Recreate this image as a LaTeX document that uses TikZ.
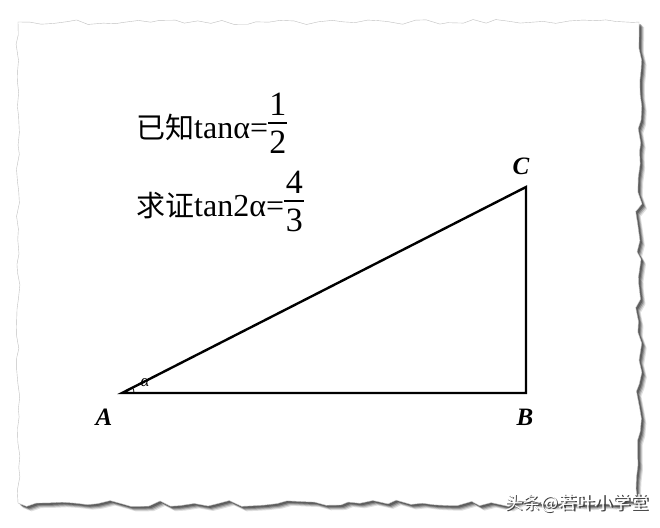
\documentclass[tikz,border=0pt]{standalone}
\usepackage{fontspec}
\setmainfont{Liberation Serif}
\newfontfamily\cjk{Noto Sans CJK SC}
\usetikzlibrary{positioning}
\begin{document}
\begin{tikzpicture}
    [
    x=1pt,y=-1pt,
    % torn sheet outline, same seed each time it is used
    tornsheet/.style={/utils/exec={\pgfmathsetseed{42}},insert path={
      (18,22) foreach \x in {30,42,...,630} {-- ({\x+3*rand},{22+2.5*rand})}
      -- (639,22) foreach \y in {34,46,...,494} {-- ({639+3.5*rand},{\y+3*rand})}
      -- (638,503) foreach \x in {626,614,...,26} {-- ({\x+3*rand},{503+3.5*rand})}
      -- (18,503) foreach \y in {491,479,...,34} {-- ({18+2*rand},{\y+3*rand})}
      -- cycle}},
    edge/.style={line width=2.4pt,line join=miter},
    vertex/.style={font=\bfseries\itshape\fontsize{25}{25}\selectfont,inner sep=0pt},
    given/.style={anchor=base west,inner sep=0pt,font=\fontsize{32}{32}\selectfont},
    digit/.style={inner sep=0pt,font=\fontsize{34}{34}\selectfont},
    bar/.style={line width=2.8pt},
    ]
    \useasboundingbox (0,0) rectangle (660,527);
    \fill[white] (0,0) rectangle (660,527);
    % shadow of the paper
    \foreach \s/\o in {5/0.12,4/0.18,3/0.25,2/0.3} {
      \fill[black,opacity=\o,shift={(\s,\s)},tornsheet];
    }
    \fill[white,tornsheet];
    \draw[black!25,line width=0.4pt,tornsheet];
    % the text
    \node[given] (given) at (136,138) {{\cjk\fontsize{29}{29}\selectfont 已知}tanα=};
    \draw[bar] ([yshift=15pt]given.base east) -- ++(19,0) coordinate (gbarend);
    \node[digit,above=7pt of {[xshift=-9.5pt]gbarend}] (one) {1};
    \node[digit,below=8pt of {[xshift=-9.5pt]gbarend}] (two) {2};
    \node[given] (prove) at (136,216) {{\cjk\fontsize{29}{29}\selectfont 求证}tan2α=};
    \draw[bar] ([yshift=15pt]prove.base east) -- ++(20,0) coordinate (pbarend);
    \node[digit,above=7pt of {[xshift=-10pt]pbarend}] (four) {4};
    \node[digit,below=8pt of {[xshift=-10pt]pbarend}] (three) {3};
    % the triangle
    \coordinate (A) at (122,393);
    \coordinate (B) at (526,393);
    \coordinate (C) at (526,187);
    \draw[edge] (A) -- (B) -- (C) -- cycle;
    \draw[line width=0.8pt] ([xshift=12pt]A) arc[start angle=0,end angle=27,radius=12pt];
    \node[font=\itshape\fontsize{17}{17}\selectfont] (alpha) at (145,383) {α};
    \node[vertex] (labA) at (104,417) {A};
    \node[vertex] (labB) at (525,417) {B};
    \node[vertex] (labC) at (521,166) {C};
    % watermark
    \node[text=black!75,font=\cjk\fontsize{18}{18}\selectfont] (markshadow) at (578.5,504.5) {头条@若叶小学堂};
    \node[text=white,font=\cjk\fontsize{18}{18}\selectfont] (mark) at (577,503) {头条@若叶小学堂};
  \end{tikzpicture}
\end{document}
